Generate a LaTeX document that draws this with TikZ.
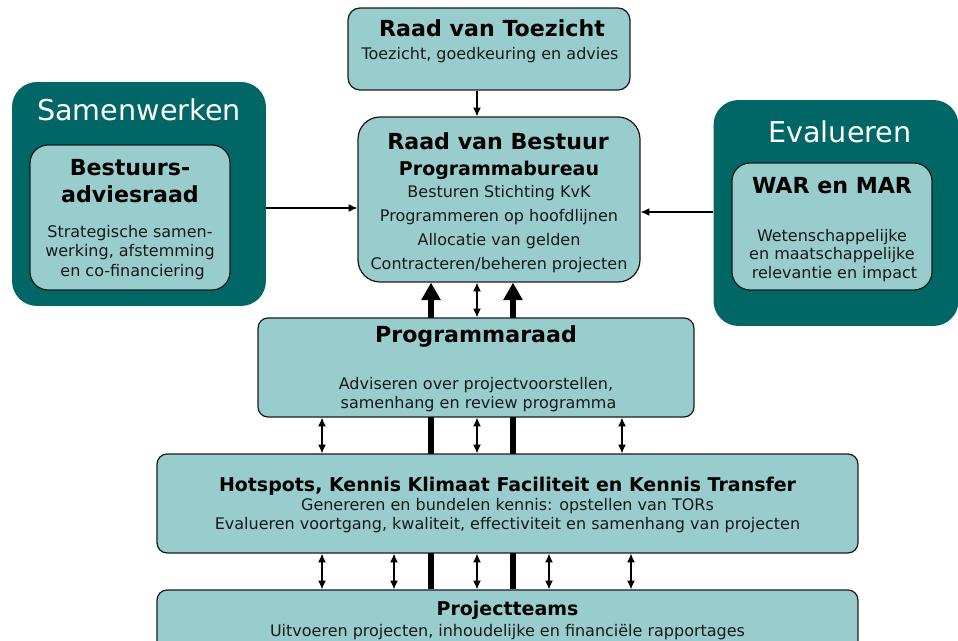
\documentclass[tikz,border=0pt]{standalone}
\usepackage{fontspec}
\setmainfont{DejaVu Sans}
\usetikzlibrary{arrows.meta,backgrounds}
\definecolor{lteal}{HTML}{99CCCC}
\definecolor{dteal}{HTML}{006666}
\definecolor{edge}{HTML}{1A1A1A}
\begin{document}
\begin{tikzpicture}[x=0.02cm,y=-0.02cm,
  box/.style={draw=edge, line width=0.7pt, fill=lteal, rounded corners=#1, inner sep=0pt},
  box/.default=0.3cm,
  group/.style={fill=dteal, rounded corners=0.5cm, inner sep=0pt},
  ttl/.style={font=\fontsize{12.6}{15.3}\selectfont\bfseries, inner sep=0pt, align=center},
  sttl/.style={font=\fontsize{10.8}{13}\selectfont\bfseries, inner sep=0pt, align=center},
  bod/.style={font=\fontsize{9.1}{#1}\selectfont, inner sep=0pt, align=center, text=black!90},
  bod/.default=11pt,
  big/.style={font=\fontsize{16.3}{19}\selectfont, text=white, inner sep=0pt},
  arr/.style={line width=0.7pt, -{Latex[length=5pt,width=4.5pt]}},
  darr/.style={line width=0.7pt, {Latex[length=5pt,width=4.5pt]}-{Latex[length=5pt,width=4.5pt]}},
  thickarr/.style={line width=3.4pt, -{Triangle[length=10pt,width=10.5pt]}}]

\useasboundingbox (0,0) rectangle (958,641);
\clip (0,0) rectangle (958,641);

% groups
\node[group, minimum width=5.08cm, minimum height=4.48cm] (samen) at (139,194) {};
\node[group, minimum width=4.9cm, minimum height=4.52cm] (eval) at (836,213) {};
\node[big] (samenT) at (139,110) {Samenwerken};
\node[big] (evalT) at (840,132) {Evalueren};

% boxes
\node[box=0.24cm, minimum width=5.64cm, minimum height=1.64cm] (rvt) at (489,49) {};
\node[box=0.44cm, minimum width=5.64cm, minimum height=3.3cm] (rvb) at (499,199.5) {};
\node[box=0.36cm, minimum width=4.0cm, minimum height=2.9cm] (bar) at (130,217.5) {};
\node[box=0.36cm, minimum width=4.0cm, minimum height=2.54cm] (war) at (832,226.5) {};
\node[box=0.2cm, minimum width=8.72cm, minimum height=1.98cm] (pr) at (476,367.5) {};
\node[box=0.2cm, minimum width=14.02cm, minimum height=1.98cm] (hot) at (507.5,503.5) {};
\node[box=0.2cm, minimum width=14.02cm, minimum height=1.6cm] (pt) at (507.5,630) {};

% texts
\node[ttl] (rvtT) at (492,28) {Raad van Toezicht};
\node[bod] (rvtB) at (490,55) {Toezicht, goedkeuring en advies};

\node[ttl] (rvbT) at (498,141) {Raad van Bestuur};
\node[sttl] (rvbS) at (499,170) {Programmabureau};
\node[bod=13.6pt] (rvbB) at (499,229) {Besturen Stichting KvK\\Programmeren op hoofdlijnen\\Allocatie van gelden\\Contracteren/beheren projecten};

\node[ttl] (barT) at (130,181.5) {Bestuurs-\\adviesraad};
\node[bod=11pt] (barB) at (130,252.5) {Strategische samen-\\werking, afstemming\\\ en co-financiering};

\node[ttl] (warT) at (832,186) {WAR en MAR};
\node[bod=10.5pt] (warB) at (832,255.5) {Wetenschappelijke\\en maatschappelijke\\\ relevantie en impact};

\node[ttl] (prT) at (476,336) {Programmaraad};
\node[bod=10.8pt] (prB) at (476,394.5) {Adviseren over projectvoorstellen,\\\ samenhang en review programma};

\node[sttl] (hotT) at (507.5,486) {Hotspots, Kennis Klimaat Faciliteit en Kennis Transfer};
\node[bod=10.8pt] (hotB) at (507.5,515.5) {Genereren en bundelen kennis: opstellen van TORs\\Evalueren voortgang, kwaliteit, effectiviteit en samenhang van projecten};

\node[sttl] (ptT) at (507.5,610) {Projectteams};
\node[bod] (ptB) at (507.5,632) {Uitvoeren projecten, inhoudelijke en financiële rapportages};

% helper coordinates
\coordinate (ya) at (0,208);
\coordinate (yb) at (0,212);
\coordinate (xa) at (431,0);
\coordinate (xb) at (513,0);
\coordinate (x1) at (322,0);
\coordinate (x2) at (394,0);
\coordinate (x3) at (477,0);
\coordinate (x4) at (549,0);
\coordinate (x5) at (622,0);
\coordinate (x6) at (631,0);

% white page and thick arrows behind boxes
\begin{scope}[on background layer]
\fill[white] (0,0) rectangle (958,641);
\draw[thickarr] (pt.north -| xa) -- (rvb.south -| xa);
\draw[thickarr] (pt.north -| xb) -- (rvb.south -| xb);
\end{scope}

% thin connectors
\draw[arr] (rvt.south -| x3) -- (rvb.north -| x3);
\draw[arr] (samen.east |- ya) -- (rvb.west |- ya);
\draw[arr] (eval.west |- yb) -- (rvb.east |- yb);
\draw[darr] (rvb.south -| x3) -- (pr.north -| x3);
\draw[darr] (pr.south -| x1) -- (hot.north -| x1);
\draw[darr] (pr.south -| x3) -- (hot.north -| x3);
\draw[darr] (pr.south -| x5) -- (hot.north -| x5);
\draw[darr] (hot.south -| x1) -- (pt.north -| x1);
\draw[darr] (hot.south -| x2) -- (pt.north -| x2);
\draw[darr] (hot.south -| x3) -- (pt.north -| x3);
\draw[darr] (hot.south -| x4) -- (pt.north -| x4);
\draw[darr] (hot.south -| x6) -- (pt.north -| x6);
\end{tikzpicture}
\end{document}
